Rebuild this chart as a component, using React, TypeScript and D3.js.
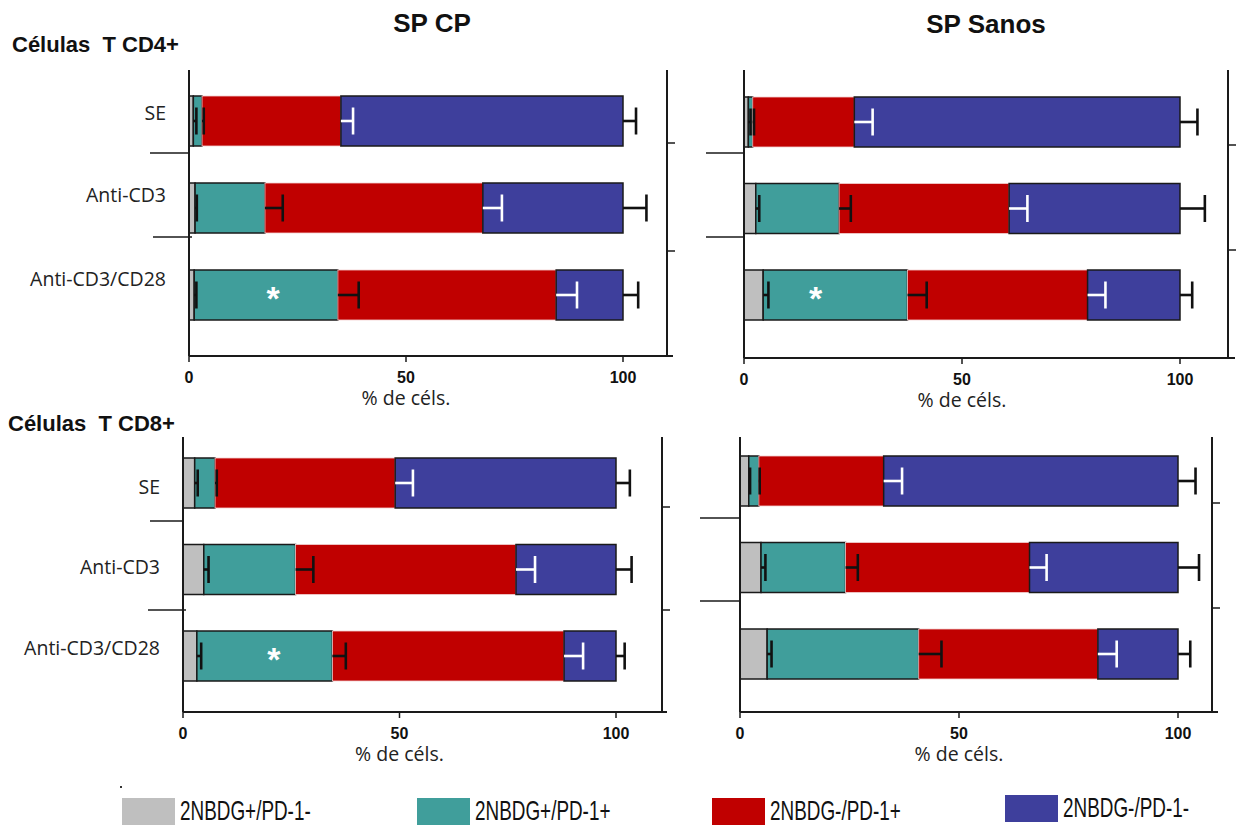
import React from 'react';
import * as d3 from 'd3';

// categories and series
const categories = ['SE', 'Anti-CD3', 'Anti-CD3/CD28'];
const seriesNames = ['2NBDG+/PD-1-', '2NBDG+/PD-1+', '2NBDG-/PD-1+', '2NBDG-/PD-1-'];
const seriesColors = ['#bfbfbf', '#409e9b', '#c00000', '#3e3f9c'];
const xTicks = [0, 50, 100];

// segment percentages per category (rows follow categories, columns follow seriesNames)
const cd4CP = [
  [1.0, 2.0, 32.0, 65.0],
  [1.4, 16.1, 50.2, 32.3],
  [1.2, 33.1, 50.3, 15.4],
];
const cd4CPErr = [
  [0.7, 0.4, 2.8, 3.0],
  [0.4, 4.1, 4.4, 5.4],
  [0.5, 4.8, 4.8, 3.5],
];
const cd4Sanos = [
  [1.0, 1.0, 23.3, 74.7],
  [2.7, 19.1, 39.0, 39.2],
  [4.4, 33.1, 41.3, 21.2],
];
const cd4SanosErr = [
  [0.5, 0.3, 4.2, 4.0],
  [0.8, 2.7, 4.2, 5.7],
  [1.2, 4.4, 4.1, 2.8],
];
const cd8CP = [
  [2.7, 4.7, 41.6, 51.0],
  [4.8, 21.2, 50.9, 23.1],
  [3.2, 31.3, 53.5, 12.0],
];
const cd8CPErr = [
  [0.7, 0.4, 4.1, 3.2],
  [1.1, 4.1, 4.4, 3.6],
  [1.0, 3.1, 4.4, 2.0],
];
const cd8Sanos = [
  [2.0, 2.3, 28.5, 67.2],
  [4.8, 19.3, 42.0, 33.9],
  [6.2, 34.6, 40.9, 18.3],
];
const cd8SanosErr = [
  [0.3, 0.2, 4.2, 4.0],
  [1.0, 2.8, 3.9, 4.8],
  [1.0, 5.2, 4.3, 2.8],
];
// asterisk (significance) position on the Anti-CD3/CD28 row, null = none
const asteriskAt = [19.4, 16.4, 21.0, null];

const panels = [
  { data: cd4CP, err: cd4CPErr, star: asteriskAt[0], x0: 189, x100: 623, top: 70, bottom: 356, barTop: 96, step: 87, rightX: 667, endX: 673, leftTicks: [[153, 150, 189], [237, 153, 192]], rightTicks: [143, 251], labelX: 166, labelDy: [-1, -6, -9], showLabels: true },
  { data: cd4Sanos, err: cd4SanosErr, star: asteriskAt[1], x0: 744, x100: 1180, top: 70, bottom: 358, barTop: 97, step: 86.5, rightX: 1228, endX: 1235, leftTicks: [[153, 706, 744], [237, 706, 744]], rightTicks: [145, 250], labelX: 0, labelDy: [0, 0, 0], showLabels: false },
  { data: cd8CP, err: cd8CPErr, star: asteriskAt[2], x0: 183, x100: 616, top: 437, bottom: 712, barTop: 458, step: 86.5, rightX: 662, endX: 667, leftTicks: [[521, 150, 183], [610, 148, 186]], rightTicks: [507, 610], labelX: 160, labelDy: [11, 4, -1], showLabels: true },
  { data: cd8Sanos, err: cd8SanosErr, star: asteriskAt[3], x0: 740, x100: 1178, top: 437, bottom: 712, barTop: 456, step: 86.5, rightX: 1212, endX: 1218, leftTicks: [[518, 700, 740], [601, 700, 740]], rightTicks: [503, 608], labelX: 0, labelDy: [0, 0, 0], showLabels: false },
];

const BAR_H = 50;
const axisColor = '#1a1a1a';
const labelFont = '"Open Sans", "Noto Sans", sans-serif';
const tickFont = '"Liberation Sans", Arial, sans-serif';

function Panel({ p }: { p: any }) {
  const x = d3.scaleLinear().domain([0, 100]).range([p.x0, p.x100]);
  const gap = p.step - BAR_H;
  const pad = gap / p.step;
  const y = d3.scaleBand<string>()
    .domain(categories)
    .range([p.barTop - gap / 2, p.barTop - gap / 2 + p.step * 3])
    .paddingInner(pad)
    .paddingOuter(pad / 2);

  const rows = p.data.map((vals: number[], ci: number) => {
    const ends = Array.from(d3.cumsum(vals));
    return vals.map((v, si) => ({
      cat: categories[ci],
      si,
      start: si === 0 ? 0 : ends[si - 1],
      end: ends[si],
      err: p.err[ci][si],
    }));
  });

  return (
    <g>
      {/* bars */}
      {rows.map((segs: any[]) => segs.map((s) => (
        <rect
          key={s.cat + s.si}
          x={x(s.start)}
          y={y(s.cat)}
          width={x(s.end) - x(s.start)}
          height={y.bandwidth()}
          fill={seriesColors[s.si]}
          stroke={s.si === 2 ? '#f2d0d0' : '#1a1a1a'}
          strokeWidth={s.si === 2 ? 0.8 : 1.5}
        />
      )))}
      {/* error bars */}
      {rows.map((segs: any[]) => segs.map((s) => {
        const cy = (y(s.cat) as number) + y.bandwidth() / 2;
        const col = s.si === 2 ? '#ffffff' : '#111';
        const xe = x(s.end + s.err);
        return (
          <g key={'e' + s.cat + s.si} stroke={col} strokeWidth={2.6}>
            <line x1={x(s.end)} x2={xe} y1={cy} y2={cy} />
            <line x1={xe} x2={xe} y1={cy - 13.5} y2={cy + 13.5} />
          </g>
        );
      }))}
      {p.star != null && (
        <text
          x={x(p.star)}
          y={(y(categories[2]) as number) + y.bandwidth() / 2 + 15}
          textAnchor="middle"
          fill="#ffffff"
          fontFamily={tickFont}
          fontWeight="bold"
          fontSize={34}
        >*</text>
      )}
      {/* axes */}
      <line x1={p.x0} x2={p.x0} y1={p.top} y2={p.bottom} stroke={axisColor} strokeWidth={2} />
      <line x1={p.x0} x2={p.endX} y1={p.bottom} y2={p.bottom} stroke={axisColor} strokeWidth={2} />
      <line x1={p.rightX} x2={p.rightX} y1={p.top} y2={p.bottom} stroke={axisColor} strokeWidth={2} />
      {p.rightTicks.map((ty: number) => (
        <line key={'rt' + ty} x1={p.rightX} x2={p.rightX + 8} y1={ty} y2={ty} stroke={axisColor} strokeWidth={1.5} />
      ))}
      {p.leftTicks.map((t: number[]) => (
        <line key={'lt' + t[0]} x1={t[1]} x2={t[2]} y1={t[0]} y2={t[0]} stroke={axisColor} strokeWidth={1.5} />
      ))}
      {xTicks.map((t) => (
        <g key={'xt' + t}>
          <line x1={x(t)} x2={x(t)} y1={p.bottom} y2={p.bottom + 6} stroke={axisColor} strokeWidth={1.5} />
          <text x={x(t)} y={p.bottom + 27} textAnchor="middle" fontFamily={tickFont} fontWeight="bold" fontSize={16} fill="#111">{t}</text>
        </g>
      ))}
      <text x={x(50)} y={p.bottom + 49} textAnchor="middle" fontFamily={labelFont} fontSize={19.5} fill="#222">% de céls.</text>
      {p.showLabels && categories.map((c, ci) => (
        <text
          key={'cl' + c}
          x={p.labelX}
          y={(y(c) as number) + y.bandwidth() / 2 + p.labelDy[ci]}
          textAnchor="end"
          fontFamily={labelFont}
          fontSize={19.5}
          fill="#222"
        >{c}</text>
      ))}
    </g>
  );
}

const legendX = [122, 417, 712, 1005];

export default function App() {
  return (
    <svg width={1244} height={825} style={{ position: 'absolute', left: 0, top: 0, background: '#fff' }}>
      <rect width={1244} height={825} fill="#fff" />
      <text x={432} y={32} textAnchor="middle" fontFamily={tickFont} fontWeight="bold" fontSize={26} fill="#111">SP CP</text>
      <text x={986} y={33} textAnchor="middle" fontFamily={tickFont} fontWeight="bold" fontSize={26} fill="#111">SP Sanos</text>
      <text x={12} y={52} fontFamily={tickFont} fontWeight="bold" fontSize={22} fill="#111" style={{ whiteSpace: 'pre' }}>{'Células  T CD4+'}</text>
      <text x={8} y={431} fontFamily={tickFont} fontWeight="bold" fontSize={22} fill="#111" style={{ whiteSpace: 'pre' }}>{'Células  T CD8+'}</text>
      <rect x={120} y={786} width={2} height={2} fill="#333" />
      {panels.map((p, i) => <Panel key={'panel' + i} p={p} />)}
      {seriesNames.map((s, i) => (
        <g key={s}>
          <rect x={legendX[i]} y={i === 3 ? 795 : 798} width={53} height={27} fill={seriesColors[i]} />
          <text
            transform={`translate(${legendX[i] + 58},${i === 3 ? 817 : 820}) scale(0.7,1)`}
            fontFamily={tickFont}
            fontSize={27}
            fill="#111"
          >{s}</text>
        </g>
      ))}
    </svg>
  );
}
